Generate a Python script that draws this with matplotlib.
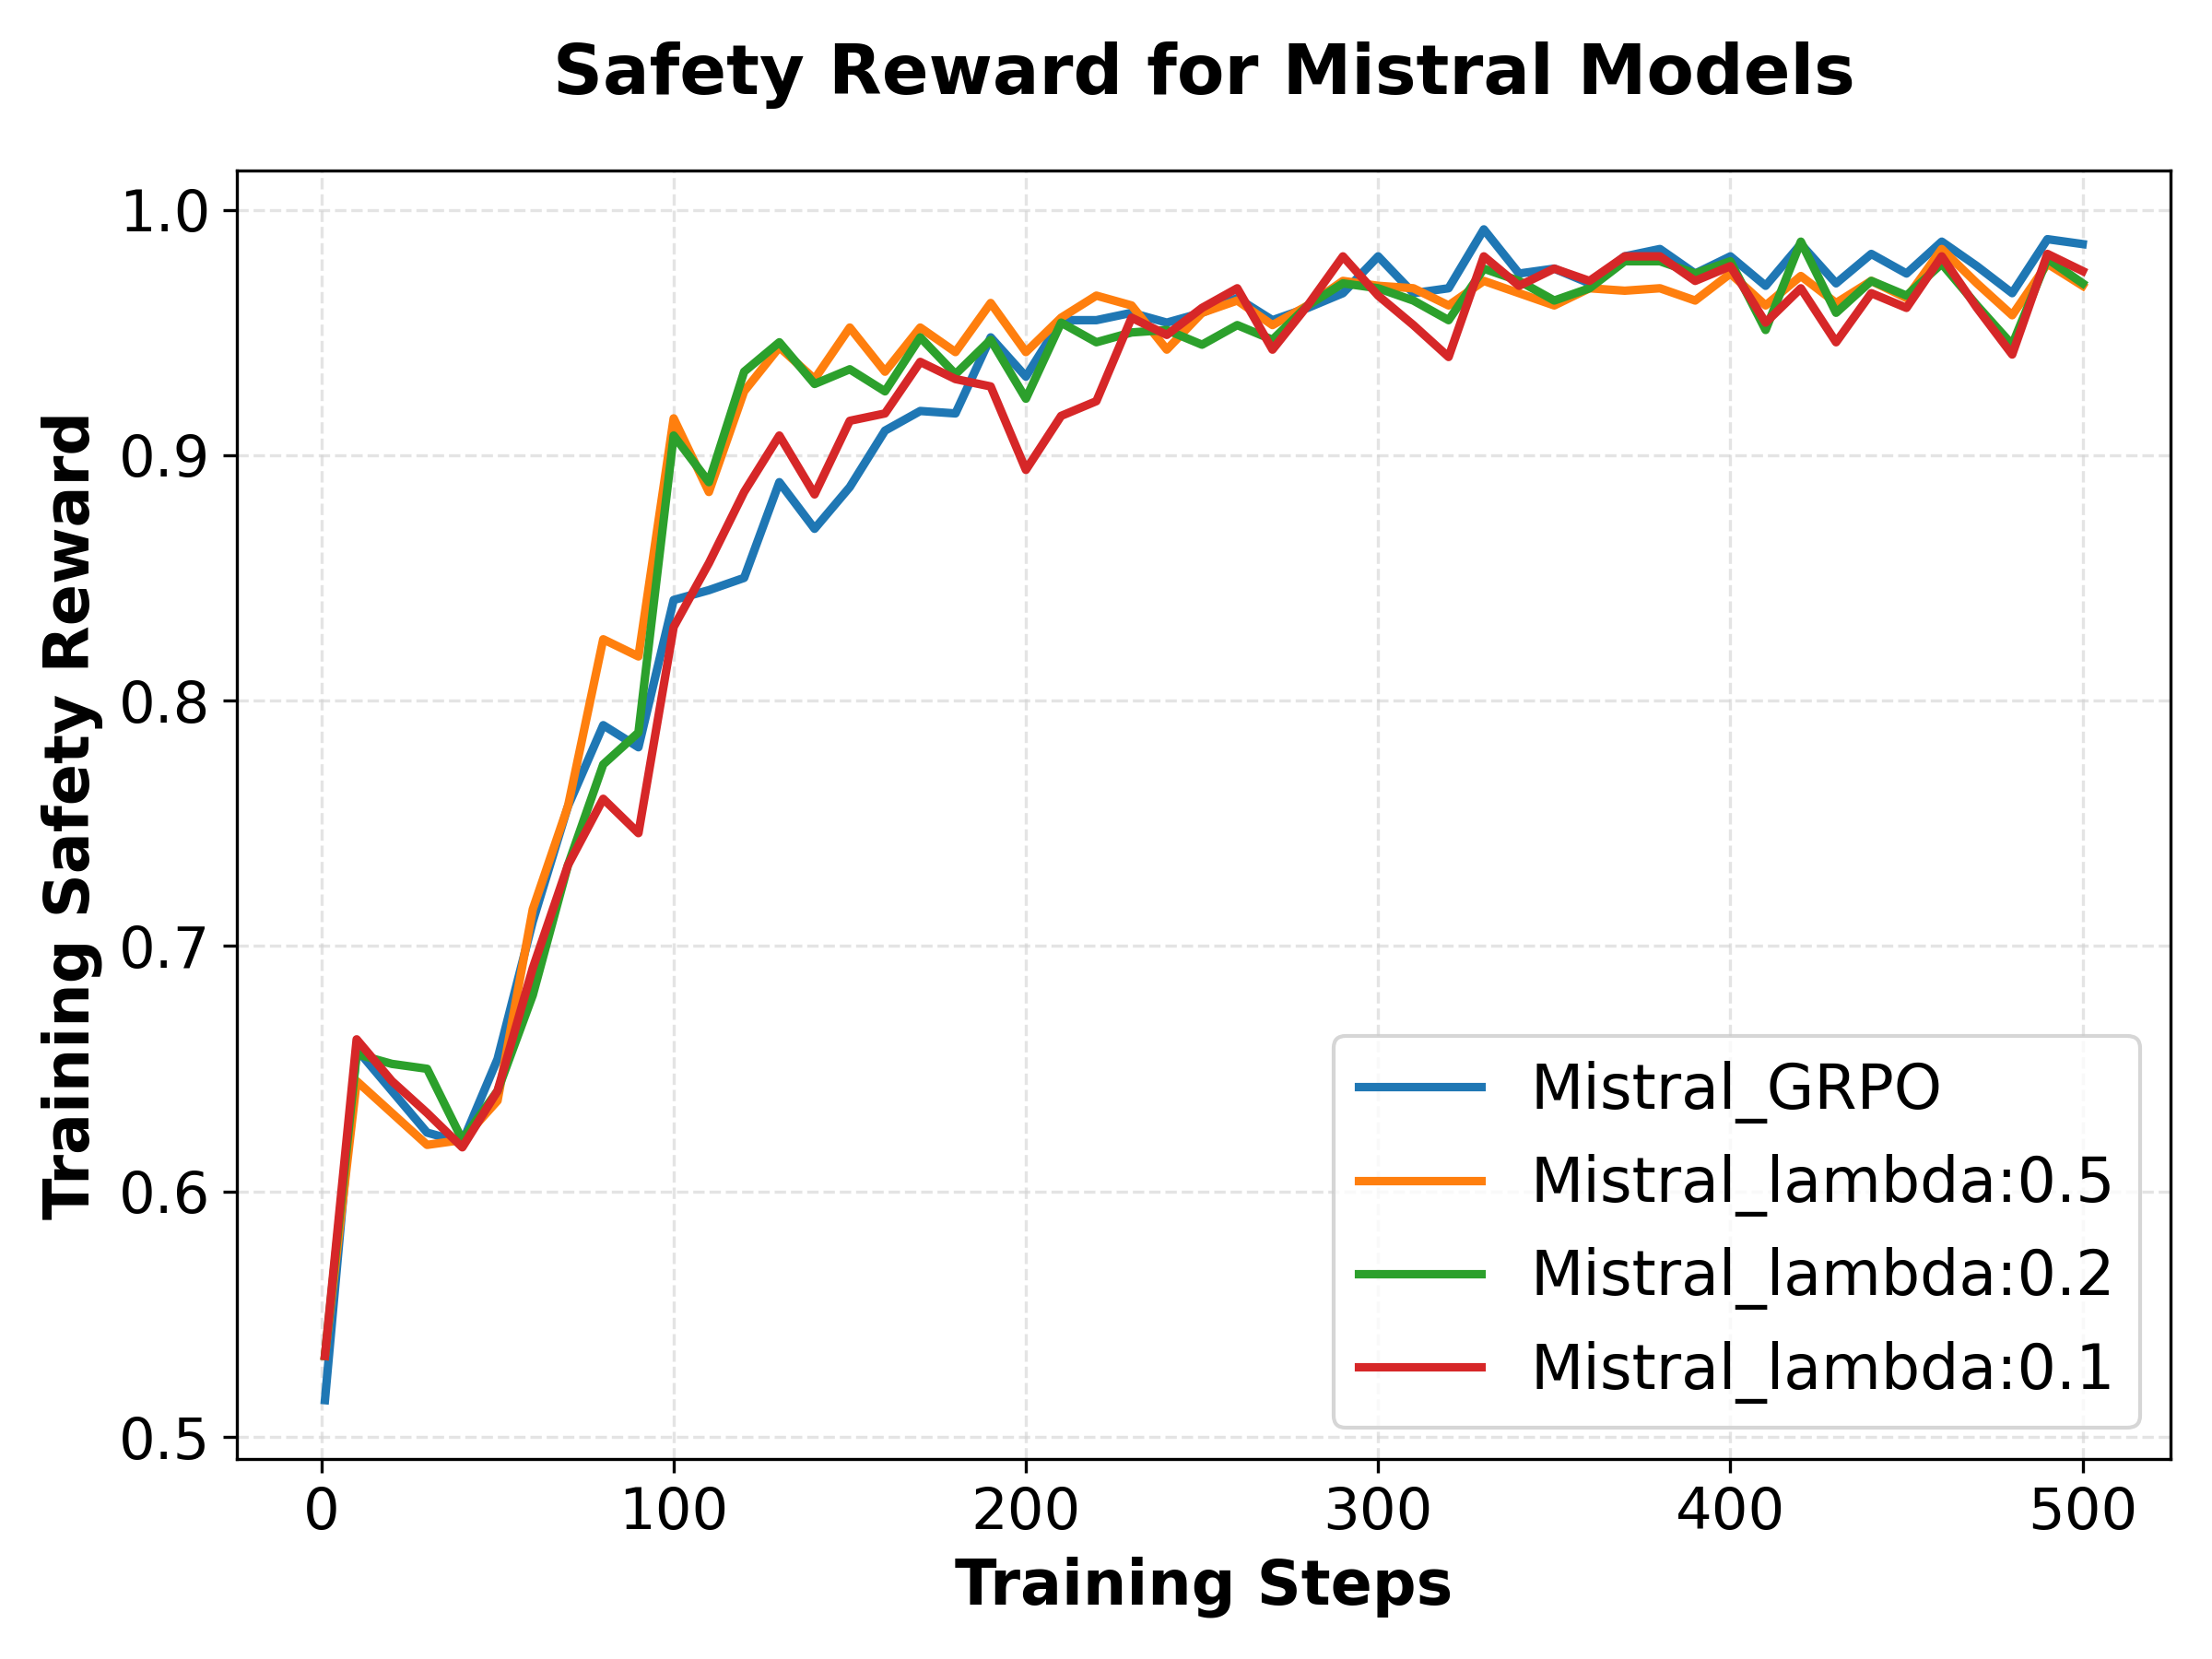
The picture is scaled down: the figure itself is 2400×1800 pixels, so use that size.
import matplotlib
matplotlib.use("Agg")
import matplotlib.pyplot as plt

steps = [1] + list(range(10, 501, 10))

grpo = [0.515, 0.658, 0.641, 0.624, 0.620, 0.654, 0.710, 0.757, 0.790, 0.781,
        0.841, 0.845, 0.850, 0.889, 0.870, 0.887, 0.910, 0.918, 0.917, 0.948,
        0.932, 0.955, 0.955, 0.958, 0.954, 0.958, 0.964, 0.955, 0.960, 0.966,
        0.981, 0.966, 0.968, 0.992, 0.974, 0.976, 0.970, 0.981, 0.984, 0.974,
        0.981, 0.969, 0.986, 0.970, 0.982, 0.974, 0.987, 0.977, 0.966, 0.988,
        0.986]
lam05 = [0.533, 0.645, 0.632, 0.619, 0.621, 0.637, 0.715, 0.757, 0.825, 0.818,
         0.915, 0.885, 0.926, 0.944, 0.931, 0.952, 0.934, 0.952, 0.942, 0.962,
         0.942, 0.956, 0.965, 0.961, 0.943, 0.958, 0.963, 0.953, 0.961, 0.971,
         0.969, 0.968, 0.961, 0.971, 0.966, 0.961, 0.968, 0.967, 0.968, 0.963,
         0.974, 0.961, 0.973, 0.962, 0.971, 0.964, 0.984, 0.970, 0.957, 0.978,
         0.969]
lam02 = [0.533, 0.656, 0.652, 0.650, 0.621, 0.641, 0.680, 0.733, 0.774, 0.787,
         0.908, 0.889, 0.934, 0.946, 0.929, 0.935, 0.926, 0.948, 0.933, 0.947,
         0.923, 0.954, 0.946, 0.950, 0.951, 0.945, 0.953, 0.947, 0.961, 0.970,
         0.968, 0.963, 0.955, 0.976, 0.971, 0.963, 0.968, 0.979, 0.979, 0.974,
         0.979, 0.951, 0.987, 0.958, 0.971, 0.965, 0.978, 0.961, 0.945, 0.980,
         0.970]
lam01 = [0.533, 0.662, 0.645, 0.632, 0.618, 0.641, 0.691, 0.733, 0.760, 0.746,
         0.830, 0.856, 0.885, 0.908, 0.884, 0.914, 0.917, 0.938, 0.931, 0.928,
         0.894, 0.916, 0.922, 0.956, 0.949, 0.960, 0.968, 0.943, 0.961, 0.981,
         0.965, 0.953, 0.940, 0.981, 0.969, 0.976, 0.971, 0.981, 0.981, 0.971,
         0.977, 0.954, 0.968, 0.946, 0.966, 0.960, 0.981, 0.960, 0.941, 0.982,
         0.975]

series = [
    ("Mistral_GRPO", grpo, "#1f77b4"),
    ("Mistral_lambda:0.5", lam05, "#ff7f0e"),
    ("Mistral_lambda:0.2", lam02, "#2ca02c"),
    ("Mistral_lambda:0.1", lam01, "#d62728"),
]

fig, ax = plt.subplots(figsize=(8, 6), dpi=300)
for name, vals, color in series:
    ax.plot(steps, vals, color=color, linewidth=2.2, label=name)

ax.grid(True, linestyle="--", color="lightgray", alpha=0.6)
ax.set_xlabel("Training Steps", fontsize=16, fontweight="bold")
ax.set_ylabel("Training Safety Reward", fontsize=16, fontweight="bold")
ax.set_title("Safety Reward for Mistral Models", fontsize=18, fontweight="bold", pad=20)
ax.tick_params(labelsize=15)
ax.legend(loc="lower right", fontsize=16)

plt.tight_layout()
plt.savefig("out.png")
